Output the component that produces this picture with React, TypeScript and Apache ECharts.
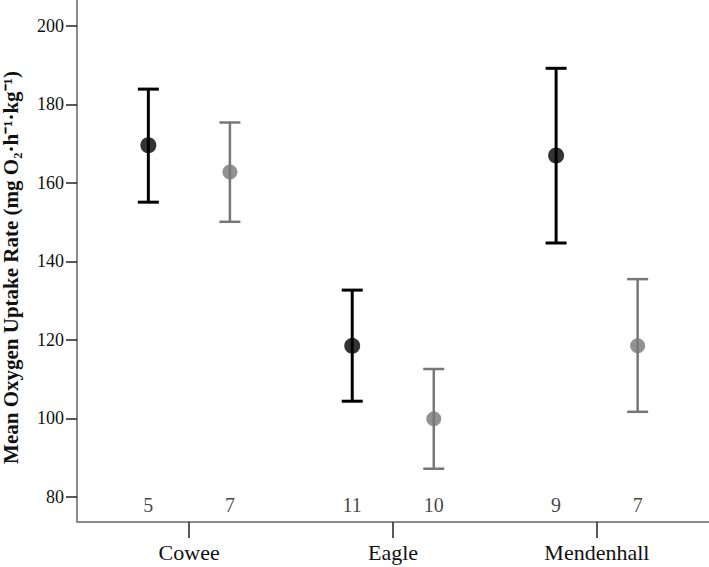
import React, { useEffect, useRef } from "react";
import * as echarts from "echarts";

const sites = ["Cowee", "Eagle", "Mendenhall"];
const blackMean = [169.6, 118.5, 167.0];
const blackLow = [155.1, 104.4, 144.7];
const blackHigh = [183.9, 132.7, 189.2];
const grayMean = [162.8, 99.9, 118.5];
const grayLow = [150.1, 87.2, 101.7];
const grayHigh = [175.4, 112.6, 135.5];
const blackN = [5, 11, 9];
const grayN = [7, 10, 7];
const yTicks = [80, 100, 120, 140, 160, 180, 200];
const countLevel = 78;

const OFFSET = 0.2;
const FONT = "'Liberation Serif', 'Times New Roman', serif";

function errorSeries(low: number[], high: number[], sign: number, color: string, lw: number) {
  return {
    type: "custom",
    silent: true,
    z: 2,
    encode: { x: 0, y: [1, 2] },
    data: sites.map((_, i) => [i + sign * OFFSET, low[i], high[i]]),
    renderItem: (params: any, api: any) => {
      const x = api.value(0);
      const pLo = api.coord([x, api.value(1)]);
      const pHi = api.coord([x, api.value(2)]);
      const half = 10.5;
      const style = { stroke: color, lineWidth: lw };
      return {
        type: "group",
        children: [
          { type: "line", shape: { x1: pHi[0], y1: pHi[1], x2: pLo[0], y2: pLo[1] }, style },
          { type: "line", shape: { x1: pHi[0] - half, y1: pHi[1], x2: pHi[0] + half, y2: pHi[1] }, style },
          { type: "line", shape: { x1: pLo[0] - half, y1: pLo[1], x2: pLo[0] + half, y2: pLo[1] }, style },
        ],
      };
    },
  };
}

function meanSeries(mean: number[], sign: number, color: string, size: number) {
  return {
    type: "scatter",
    silent: true,
    z: 5,
    symbol: "circle",
    symbolSize: size,
    itemStyle: { color },
    data: sites.map((_, i) => [i + sign * OFFSET, mean[i]]),
  };
}

function countSeries(n: number[], sign: number) {
  return {
    type: "scatter",
    silent: true,
    z: 6,
    symbolSize: 1,
    itemStyle: { color: "rgba(0,0,0,0)" },
    label: {
      show: true,
      position: "inside",
      formatter: (p: any) => String(p.value[2]),
      color: "#111",
      fontFamily: FONT,
      fontSize: 20,
    },
    data: sites.map((_, i) => [i + sign * OFFSET, countLevel, n[i]]),
  };
}

export default function App() {
  const ref = useRef<HTMLDivElement>(null);
  useEffect(() => {
    document.body.style.margin = "0";
    if (!ref.current) return;
    const chart = echarts.init(ref.current, null, { renderer: "svg" });
    chart.setOption({
      animation: false,
      backgroundColor: "#fff",
      grid: {
        left: 77,
        right: 0,
        top: 0,
        bottom: 45,
        containLabel: false,
        outerBoundsMode: "none",
      },
      xAxis: {
        type: "value",
        min: -0.55,
        max: 2.55,
        splitLine: { show: false },
        axisLine: { show: true, onZero: false, lineStyle: { color: "#8a8a8a", width: 2 } },
        axisTick: {
          show: true,
          customValues: [0, 1, 2],
          length: 16,
          lineStyle: { color: "#222", width: 1.5 },
        },
        axisLabel: {
          customValues: [0, 1, 2],
          formatter: (v: number) => sites[Math.round(v)] ?? "",
          margin: 19,
          color: "#111",
          fontFamily: FONT,
          fontSize: 22,
        },
      },
      yAxis: {
        type: "value",
        min: 73.63,
        max: 206.6,
        splitLine: { show: false },
        axisLine: { show: true, onZero: false, lineStyle: { color: "#8a8a8a", width: 2 } },
        axisTick: {
          show: true,
          customValues: yTicks,
          length: 11,
          lineStyle: { color: "#222", width: 1.5 },
        },
        axisLabel: {
          customValues: yTicks,
          margin: 13,
          color: "#111",
          fontFamily: FONT,
          fontSize: 18,
        },
        name: "Mean Oxygen Uptake Rate (mg O\u2082\u00b7h\u207b\u00b9\u00b7kg\u207b\u00b9)",
        nameLocation: "middle",
        nameGap: 56,
        nameRotate: 90,
        nameTextStyle: {
          color: "#111",
          fontFamily: FONT,
          fontSize: 21,
          fontWeight: "bold",
          padding: [0, 13, 0, 0],
        },
      },
      series: [
        errorSeries(blackLow, blackHigh, -1, "#000", 3),
        errorSeries(grayLow, grayHigh, 1, "#777", 2.5),
        meanSeries(blackMean, -1, "#000", 16),
        meanSeries(grayMean, 1, "#777", 15),
        countSeries(blackN, -1),
        countSeries(grayN, 1),
      ],
    });
    return () => chart.dispose();
  }, []);
  return <div ref={ref} style={{ width: 709, height: 567 }} />;
}
